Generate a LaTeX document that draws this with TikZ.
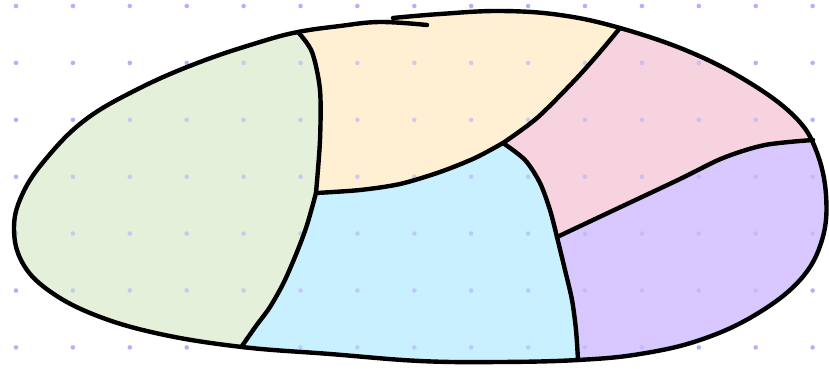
\documentclass[tikz,border=0pt]{standalone}
\usepackage{xcolor}
\usepackage{tikz}

\definecolor{dotc}{RGB}{178,178,252}
\definecolor{greenf}{RGB}{229,240,218}
\definecolor{yellowf}{RGB}{255,240,212}
\definecolor{pinkf}{RGB}{247,210,223}
\definecolor{bluef}{RGB}{201,240,255}
\definecolor{purplef}{RGB}{216,200,255}

\begin{document}
\begin{tikzpicture}[x=1pt,y=-1pt,
    border/.style={draw=black,line width=4.4pt,line cap=round,line join=round},
    griddot/.style={fill=dotc}]
    \useasboundingbox (0,0) rectangle (829,369);

    \foreach \i in {0,...,14}
      \foreach \j in {0,...,6}
        \fill[griddot] (16+56.9*\i,6+56.9*\j) circle (2.3);

    \begin{scope}
      \clip plot[smooth cycle,tension=0.65] coordinates {(393,18) (440,14) (500,11) (560,15) (620,28) (690,52) (750,83) (795,117) (816,150) (826,195) (822,240) (800,280) (755,315) (700,340) (640,354) (578,360) (500,362) (420,361) (330,354) (242,347) (160,334) (95,315) (48,290) (22,262) (14,228) (22,195) (45,160) (85,120) (140,88) (200,62) (260,42) (298,32) (340,26)};
      \fill[greenf] (0,0) rectangle (829,369);
      \fill[bluef] (292,-20) -- plot[smooth] coordinates {(298,32) (312,52) (320,90) (320,140) (316,193)}
        -- plot[smooth] coordinates {(316,193) (307,225) (297,252) (284,282) (270,307) (256,326) (242,346)}
        -- (236,390) -- (850,390) -- (850,-20) -- cycle;
      \fill[yellowf] (292,-20) -- plot[smooth] coordinates {(298,32) (312,52) (320,90) (320,140) (316,193)}
        -- plot[smooth] coordinates {(316,193) (360,190) (400,184) (440,172) (475,158) (503,143)}
        -- plot[smooth] coordinates {(503,143) (537,118) (575,80) (600,52) (620,28)}
        -- (645,-20) -- cycle;
      \fill[pinkf] (645,-20) -- plot[smooth] coordinates {(620,28) (600,52) (575,80) (537,118) (503,143)}
        -- plot[smooth] coordinates {(503,143) (525,160) (540,183) (550,210) (557,237)}
        -- plot[smooth] coordinates {(557,237) (610,212) (680,179) (723,158) (765,145) (813,140)}
        -- (850,120) -- (850,-20) -- cycle;
      \fill[purplef] plot[smooth] coordinates {(557,237) (610,212) (680,179) (723,158) (765,145) (813,140)}
        -- (850,130) -- (850,390) -- (578,390)
        -- plot[smooth] coordinates {(578,360) (576,330) (572,300) (565,270) (557,237)} -- cycle;
      \foreach \i in {0,...,14}
        \foreach \j in {0,...,6}
          \fill[griddot,opacity=0.6] (16+56.9*\i,6+56.9*\j) circle (2.3);
    \end{scope}

    \draw[border] plot[smooth,tension=0.65] coordinates {(393,18) (440,14) (500,11) (560,15) (620,28) (690,52) (750,83) (795,117) (816,150) (826,195) (822,240) (800,280) (755,315) (700,340) (640,354) (578,360) (500,362) (420,361) (330,354) (242,347) (160,334) (95,315) (48,290) (22,262) (14,228) (22,195) (45,160) (85,120) (140,88) (200,62) (260,42) (298,32) (340,26) (380,22) (427,25)};
    \draw[border] plot[smooth] coordinates {(298,32) (312,52) (320,90) (320,140) (316,193)};
    \draw[border] plot[smooth] coordinates {(316,193) (307,225) (297,252) (284,282) (270,307) (256,326) (242,346)};
    \draw[border] plot[smooth] coordinates {(316,193) (360,190) (400,184) (440,172) (475,158) (503,143)};
    \draw[border] plot[smooth] coordinates {(620,28) (600,52) (575,80) (537,118) (503,143)};
    \draw[border] plot[smooth] coordinates {(503,143) (525,160) (540,183) (550,210) (557,237)};
    \draw[border] plot[smooth] coordinates {(557,237) (565,270) (572,300) (576,330) (578,360)};
    \draw[border] plot[smooth] coordinates {(557,237) (610,212) (680,179) (723,158) (765,145) (813,140)};
\end{tikzpicture}
\end{document}
